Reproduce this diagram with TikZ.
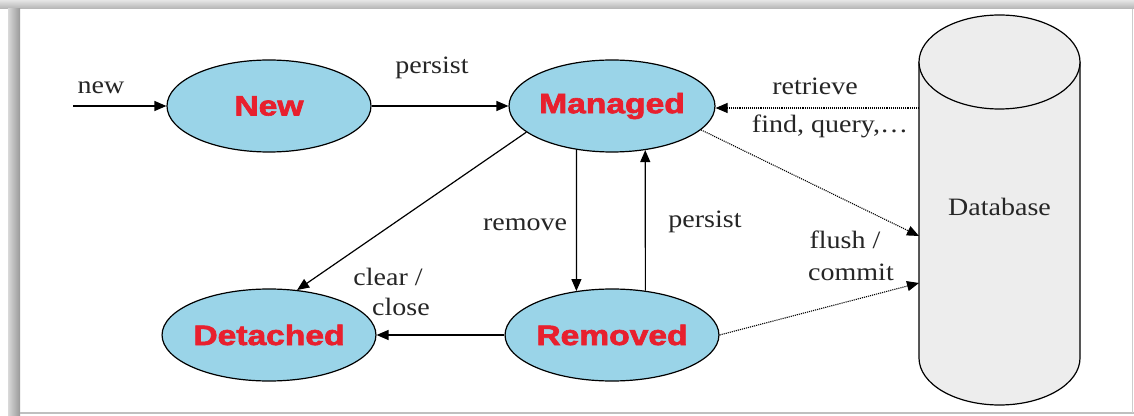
\documentclass[tikz,border=0pt]{standalone}
\usepackage{fontspec}
\setmainfont{Liberation Serif}
\newfontfamily\statefont[FakeBold=2.2]{Liberation Sans Bold}
\usetikzlibrary{shapes.geometric,arrows.meta,calc}
\definecolor{stfill}{HTML}{9AD4E8}
\definecolor{stred}{HTML}{E8202E}
\definecolor{dbfill}{HTML}{EDEDED}
\newcommand{\wx}[1]{\scalebox{1.12}[1]{#1}}
\newcommand{\wst}[1]{\scalebox{1.2}[1]{#1}}
\tikzset{
  x=1pt, y=1pt,
  state/.style={ellipse, draw=black, line width=1.2pt, fill=stfill,
    minimum width=204pt, minimum height=92pt, inner sep=0pt,
    font=\statefont\fontsize{28}{30}\selectfont, text=stred},
  lbl/.style={font=\fontsize{25}{27}\selectfont, inner sep=0pt, text=black!85},
  arr/.style={line width=1.2pt, -{Triangle[length=12pt,width=10pt]}},
  darr/.style={line width=1.1pt, densely dotted, -{Triangle[length=12pt,width=10pt]}}
}
\begin{document}
\begin{tikzpicture}
\useasboundingbox (0,0) rectangle (1134,415);
\fill[white] (0,0) rectangle (1134,415);
% frame
\shade[top color=black!10, bottom color=black!30] (0,406) rectangle (1134,415);
\shade[left color=black!15, right color=black!40] (8,0) rectangle (20,406);
\draw[black!25, line width=1.2pt] (20,2) -- (1134,2);
\draw[black!20, line width=1pt] (1132,2) -- (1132,406);
% database cylinder
\fill[dbfill] (919,353) -- (919,57) arc[start angle=180, end angle=360, x radius=80.5, y radius=47] -- (1080,353) -- cycle;
\draw[line width=1.2pt] (919,353) -- (919,57) arc[start angle=180, end angle=360, x radius=80.5, y radius=47] -- (1080,353);
\draw[line width=1.2pt, fill=dbfill] (999.5,353) ellipse[x radius=80.5, y radius=47];
\node[lbl] (db) at (999.5,208) {\wx{Database}};
\coordinate (dbr) at (919,307);
\coordinate (dbf1) at (919,179);
\coordinate (dbf2) at (919,132);
% states
\node[state] (new) at (269,309) {\wst{New}};
\node[state] (managed) at (612,309) {\wst{Managed}};
\node[state] (detached) at (269,80) {\wst{Detached}};
\node[state] (removed) at (612,80) {\wst{Removed}};
\coordinate (nstart) at (73,309);
% connectors
\draw[arr] (nstart) -- (new.west);
\draw[arr] (new.east) -- (managed.west);
\draw[darr] (dbr) -- (managed.east |- dbr);
\draw[darr] (managed.-15) -- (dbf1);
\draw[darr] (removed.east) -- (dbf2);
\draw[arr] (managed.197) -- (detached.58);
\draw[arr] (managed.-129) -- (removed.129);
\draw[arr] (removed.53) -- (managed.-53);
\draw[arr] (removed.west) -- (detached.east);
% labels
\node[lbl] (lnew) at (101,327) {\wx{new}};
\node[lbl] (lpersist1) at (432,347) {\wx{persist}};
\node[lbl] (lretrieve) at (815,329) {\wx{retrieve}};
\node[lbl] (lfind) at (830,289) {\wx{find, query,\ldots}};
\node[lbl] (lremove) at (525,190) {\wx{remove}};
\node[lbl] (lpersist2) at (705,193) {\wx{persist}};
\node[lbl] (lclear) at (388,138) {\wx{clear /}};
\node[lbl] (lclose) at (401,108) {\wx{close}};
\node[lbl] (lflush) at (845,175) {\wx{flush /}};
\node[lbl] (lcommit) at (851,143) {\wx{commit}};
\end{tikzpicture}
\end{document}
